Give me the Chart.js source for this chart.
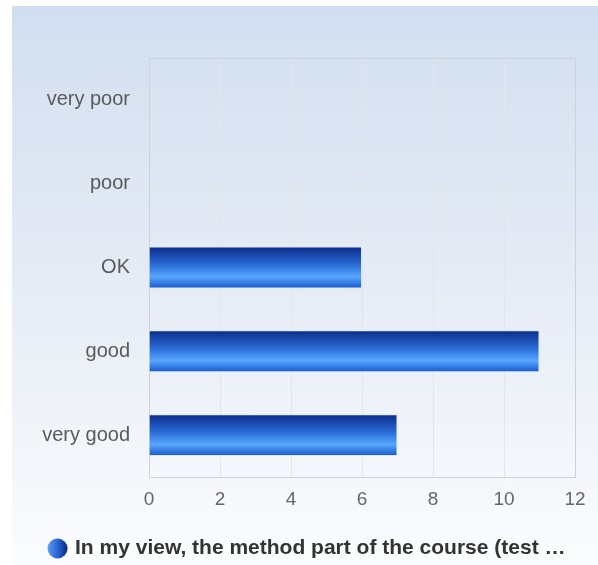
<!DOCTYPE html>
<html>
<head>
<meta charset="utf-8">
<title>Course rating</title>
<script src="https://cdn.jsdelivr.net/npm/chart.js@4.4.1/dist/chart.umd.min.js"></script>
<style>
    html, body { margin: 0; padding: 0; background: #ffffff; }
    #wrap { position: relative; width: 598px; height: 565px; }
    #panel {
        position: absolute; left: 12px; top: 6px; right: 0; bottom: 0;
        background: linear-gradient(to bottom, #d2def0 0%, #e6ecf5 50%, #fbfcfe 100%);
    }
    #chart { position: absolute; left: 0; top: 0; }
</style>
</head>
<body>
<div id="wrap">
    <div id="panel"></div>
    <canvas id="chart" width="598" height="565"></canvas>
</div>
<script>
// Données
const categories = ['very poor', 'poor', 'OK', 'good', 'very good'];
const counts = [0, 0, 6, 11, 7];
const xTicks = [0, 2, 4, 6, 8, 10, 12];
const seriesLabel = 'In my view, the method part of the course (test \u2026';

const FONT = "'Liberation Sans', Arial, sans-serif";

// Pastille de la légende (sphère bleue)
function makeMarker() {
    const size = 21;
    const c = document.createElement('canvas');
    c.width = size;
    c.height = size;
    const g = c.getContext('2d');
    const grad = g.createLinearGradient(0, 0, size, 0);
    grad.addColorStop(0, '#5d9ef2');
    grad.addColorStop(0.5, '#2b66d6');
    grad.addColorStop(1, '#0a1f7e');
    g.fillStyle = grad;
    g.beginPath();
    g.arc(size / 2, size / 2, size / 2 - 0.5, 0, Math.PI * 2);
    g.fill();
    return c;
}

// Dégradé vertical de chaque barre
function barGradient(context) {
    const chart = context.chart;
    const yScale = chart.scales.y;
    if (!chart.chartArea || !yScale || context.dataIndex === undefined) return '#2c6fd6';
    const center = yScale.getPixelForValue(context.dataIndex);
    const half = (yScale.height / categories.length) * 0.5 / 2;
    const grad = chart.ctx.createLinearGradient(0, center - half, 0, center + half);
    grad.addColorStop(0, '#0a2a88');
    grad.addColorStop(0.45, '#2c6fd8');
    grad.addColorStop(0.72, '#58a6ff');
    grad.addColorStop(1, '#1658c8');
    return grad;
}

new Chart(document.getElementById('chart').getContext('2d'), {
    type: 'bar',
    data: {
        labels: categories,
        datasets: [{
            label: seriesLabel,
            data: counts,
            backgroundColor: barGradient,
            borderColor: '#dbe7fa',
            borderWidth: 1,
            barPercentage: 0.5,
            categoryPercentage: 1.0
        }]
    },
    options: {
        indexAxis: 'y',
        responsive: false,
        animation: false,
        devicePixelRatio: 1,
        layout: {
            // gauche élargie pour centrer la légende comme sur l'original
            padding: { left: 41, top: 58, right: 23, bottom: -4 }
        },
        scales: {
            x: {
                min: 0,
                max: 12,
                afterBuildTicks: (scale) => {
                    scale.ticks = xTicks.map(v => ({ value: v }));
                },
                afterFit: (scale) => { scale.height = 51; },
                grid: {
                    drawTicks: false,
                    color: (ctx) => ctx.index === xTicks.length - 1 ? '#cdd1d8' : '#e2e5ea',
                    lineWidth: 1
                },
                border: { display: true, color: '#cdd1d8' },
                ticks: {
                    padding: 11,
                    color: '#666666',
                    font: { family: FONT, size: 19 }
                }
            },
            y: {
                afterFit: (scale) => { scale.width = 108; },
                grid: {
                    drawTicks: false,
                    offset: true,
                    color: (ctx) => ctx.index === 0 ? '#cdd1d8' : 'rgba(0,0,0,0)',
                    lineWidth: 1
                },
                border: { display: true, color: '#cdd1d8' },
                ticks: {
                    padding: 19,
                    color: '#5a5a5a',
                    font: { family: FONT, size: 20 }
                }
            }
        },
        plugins: {
            legend: {
                position: 'bottom',
                labels: {
                    usePointStyle: true,
                    pointStyle: makeMarker(),
                    pointStyleWidth: 14,
                    padding: 10,
                    color: '#333333',
                    font: { family: FONT, size: 21, weight: 'bold' }
                }
            },
            tooltip: { enabled: false }
        }
    }
});
</script>
</body>
</html>
